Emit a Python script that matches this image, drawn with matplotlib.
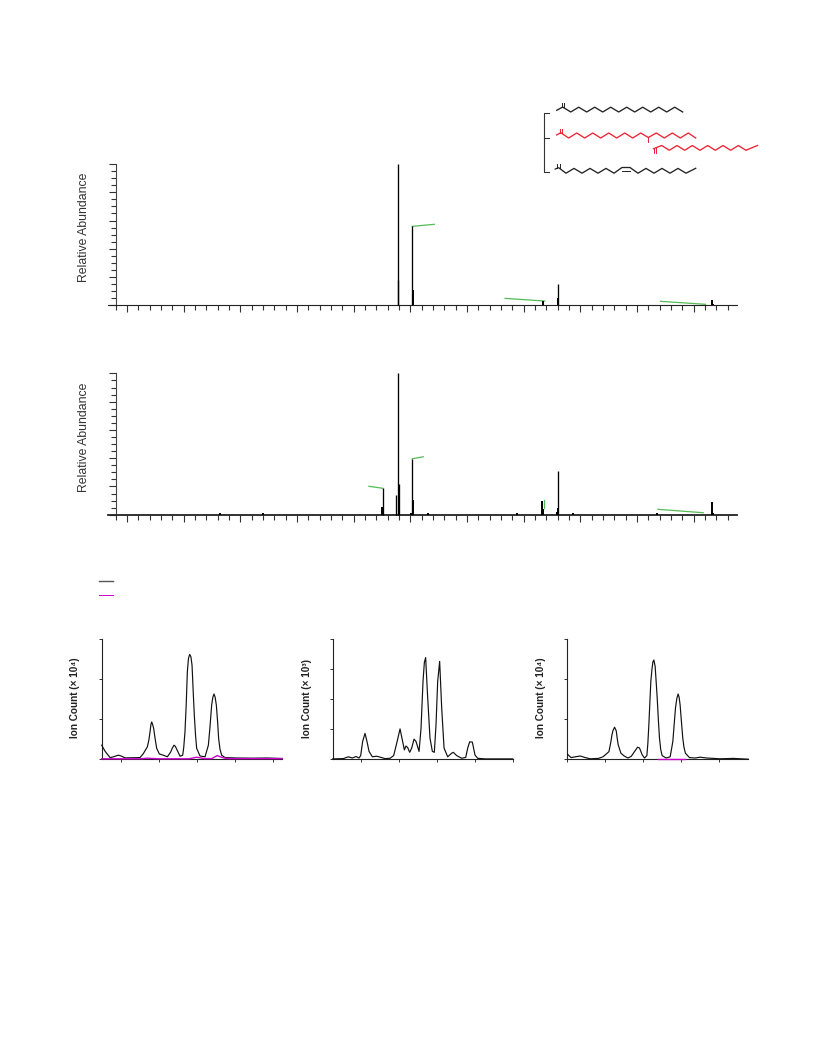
import numpy as np
import matplotlib
matplotlib.use("Agg")
import matplotlib.pyplot as plt
from matplotlib.ticker import MultipleLocator

plt.rcParams['font.family'] = ['Liberation Sans', 'DejaVu Sans']

W, H = 816, 1056

# spectrum 1: m/z, relative abundance
ms1_mz = [677.7, 678.8, 703.5, 705.2, 934.1, 960.0, 961.0, 1232.9, 1234.6]
ms1_int = [100, 18, 56, 11, 3, 15, 5, 3.8, 1.2]
# spectrum 2
ms2_mz = [364, 440, 731, 888, 987, 649.5, 651.2, 675.2, 677.7, 679.4, 680.5,
          701.7, 703.5, 705.2, 932.4, 934.1, 958.3, 960.0, 961.0,
          1136.0, 1231.8, 1232.9, 1234.0]
ms2_int = [1, 1, 1, 1, 1, 5.7, 18.6, 14, 100, 22, 2,
           1, 39.6, 10.4, 9.7, 4, 2, 31, 4.7,
           1.5, 1.7, 9, 1.5]

# green leader lines (m/z, abundance)
ms1_lead = [([703.5, 742.3], [55.9, 57.3]),
            ([867.3, 937.4], [4.9, 3.0]),
            ([1141.5, 1221], [2.8, 0.7])]
ms2_lead = [([627, 651.2], [20.1, 18.7]),
            ([703.5, 722.9], [39.6, 41]),
            ([936.0, 936.0], [5, 10.5]),
            ([1137, 1217], [3.8, 1.4])]

# chromatograms, y in axis tick units
a_t = [7.50, 7.94, 8.60, 9.04, 9.69, 10.13, 10.57, 12.54, 12.98, 13.51, 13.70, 13.86, 13.98, 14.08,
       14.20, 14.34, 14.50, 14.74, 15.09, 15.61, 16.14, 16.58, 16.80, 17.02, 17.20, 17.37, 17.81,
       18.16, 18.30, 18.46, 18.62, 18.77, 18.92, 19.08, 19.24, 19.39, 19.54, 19.69, 19.85, 20.0,
       20.44, 21.10, 21.54, 21.75, 21.97, 22.13, 22.28, 22.43, 22.59, 22.75, 22.89, 23.07, 23.29,
       23.73, 25.26, 27.46, 29.21, 31.27]
a_y = [.35, .2, .04, .06, .1, .075, .033, .04, .14, .31, .47, .68, .87, .93,
       .87, .77, .55, .27, .13, .1, .06, .18, .28, .35, .32, .25, .075,
       .1, .3, .68, 1.35, 2.18, 2.52, 2.62, 2.56, 2.35, 1.7, 1.1, .6, .27,
       .08, .06, .35, .8, 1.35, 1.55, 1.63, 1.55, 1.35, .95, .52, .25, .1,
       .04, .03, .025, .03, .017]
a_t2 = [7.5, 12.5, 13.5, 15.0, 19.0, 20.0, 21.0, 22.0, 22.7, 23.4, 24.0, 31.27]
a_y2 = [.01, .01, .025, .01, .01, .05, .015, .015, .09, .04, .015, .015]

b_t = [6.32, 7.72, 8.38, 8.90, 9.39, 9.78, 10, 10.26, 10.57, 10.83, 11.10, 11.54, 12.11,
       12.68, 13.20, 13.86, 14.34, 14.74, 15.18, 15.48, 15.75, 15.96, 16.18, 16.45, 16.71,
       17.02, 17.28, 17.68, 17.94, 18.20, 18.38, 18.55, 18.77, 19.12, 19.43, 19.69, 19.91,
       20.13, 20.39, 20.66, 20.97, 21.45, 21.97, 22.19, 22.63, 23.29, 23.82, 24.08, 24.34,
       24.69, 25.04, 25.39, 26.36, 30]
b_y = [.01, .02, .08, .04, .09, .04, .12, .59, .86, .59, .26, .08, .10,
       .06, .02, .03, .12, .53, 1.01, .64, .31, .44, .39, .23, .37,
       .67, .59, .26, 1.03, 2.59, 3.23, 3.39, 2.26, .70, .26, .23, 1.14,
       2.59, 3.26, 1.70, .37, .08, .20, .23, .12, .03, .06, .37, .58,
       .57, .14, .03, .01, .01]

c_t = [5.09, 5.53, 6.10, 6.75, 7.41, 8.07, 9.17, 9.74, 10.18, 10.53, 10.79, 10.92, 11.05, 11.27,
       11.49, 11.62, 11.75, 12.11, 12.54, 13.03, 13.46, 13.90, 14.30, 14.56, 14.91, 15.22, 15.53,
       15.66, 15.79, 15.92, 16.05, 16.20, 16.32, 16.45, 16.62, 16.75, 16.89, 17.04, 17.19, 17.35,
       17.54, 18.07, 18.60, 18.95, 19.12, 19.30, 19.48, 19.65, 19.78, 19.91, 20.08, 20.26, 20.42,
       20.61, 21.14, 21.89, 22.54, 23.42, 25.18, 26.93, 28.90]
c_y = [.12, .04, .06, .08, .04, .01, .02, .06, .13, .19, .44, .60, .71, .80,
       .71, .52, .36, .15, .08, .03, .07, .19, .30, .28, .11, .03, .09,
       .40, .86, 1.40, 1.94, 2.25, 2.43, 2.48, 2.32, 1.95, 1.53, 1.00, .53, .25,
       .09, .03, .06, .44, .85, 1.28, 1.52, 1.63, 1.55, 1.36, .95, .53, .30,
       .15, .04, .03, .05, .03, .01, .02, 0]
c_t2 = [17.0, 20.6]
c_y2 = [.008, .008]

# lipid drawings, page pixels
chain1_x = [556.7, 562.7, 570.7, 578.7, 586.7, 594.7, 602.7, 610.7, 618.7, 626.7, 634.7, 642.7, 650.7, 658.7, 666.7, 674.7, 682.7]
chain1_y = [110.3, 107.0, 112.0, 107.2, 112.0, 107.2, 112.0, 107.2, 112.0, 107.2, 112.0, 107.2, 112.0, 107.2, 112.0, 107.2, 112.0]
chain2_x = [556.7, 560.7, 568.7, 576.7, 584.7, 592.7, 600.7, 608.7, 616.7, 624.7, 632.7, 640.7, 648.3, 656.3, 664.3, 672.3, 680.3, 688.3, 695.7]
chain2_y = [135.0, 132.7, 138.0, 133.0, 138.0, 133.0, 138.0, 133.0, 138.0, 133.0, 138.0, 133.0, 137.5, 133.0, 138.0, 133.0, 138.0, 133.0, 138.0]
chain3_x = [653.5, 661.7, 669.3, 677.0, 684.7, 692.3, 700.0, 707.7, 715.3, 723.0, 730.7, 738.3, 746.0, 753.7, 757.5]
chain3_y = [148.7, 145.5, 150.3, 145.5, 150.3, 145.5, 150.3, 145.5, 150.3, 145.5, 150.3, 145.5, 150.3, 147.0, 145.5]
chain4_x = [555.3, 558.7, 566.0, 574.0, 582.0, 590.0, 598.0, 606.0, 614.0, 622.0, 630.0, 638.0, 646.0, 654.0, 662.0, 670.0, 678.0, 686.0, 695.7]
chain4_y = [169.0, 167.7, 173.2, 168.4, 173.2, 168.4, 173.2, 168.4, 173.2, 167.5, 167.5, 173.2, 168.4, 173.2, 168.4, 173.2, 168.4, 173.2, 168.3]


def px_axes(left, right, top, bottom):
    return fig.add_axes([left / W, 1 - bottom / H, (right - left) / W, (bottom - top) / H])


def spectrum(top, bottom, mz, ints, leads, base_lw):
    ax = px_axes(107.7, 736.7, top, bottom)
    ax.set_xlim(166, 1276)
    ax.set_ylim(0, 100)
    ax.patch.set_alpha(0)
    for s in ['top', 'right']:
        ax.spines[s].set_visible(False)
    ax.spines['left'].set_position(('data', 180))
    ax.spines['left'].set_linewidth(0.8)
    ax.spines['left'].set_color('#444444')
    ax.spines['bottom'].set_linewidth(base_lw)
    ax.spines['bottom'].set_color('#222222')
    ax.xaxis.set_major_locator(MultipleLocator(100))
    ax.xaxis.set_minor_locator(MultipleLocator(20))
    ax.yaxis.set_major_locator(MultipleLocator(20))
    ax.yaxis.set_minor_locator(MultipleLocator(5))
    ax.tick_params(which='major', length=5.2, width=0.8, color='#333333', labelbottom=False, labelleft=False)
    ax.tick_params(which='minor', length=3.4, width=0.8, color='#333333')
    # small isotope peaks come out as thick stubs in the original
    widths = [1.4 if i < 12 else 0.95 for i in ints]
    ax.vlines(mz, 0, ints, color='black', linewidth=widths, clip_on=False, zorder=3)
    for lx, ly in leads:
        ax.plot(lx, ly, color='#55bb55', linewidth=0.9, zorder=2)
    return ax


def chrom(left, right, xlim, ymax, t, y, t2, y2, label, lab_x):
    ax = px_axes(left, right, 639.2, 759.2)
    ax.set_xlim(*xlim)
    ax.set_ylim(0, ymax)
    ax.patch.set_alpha(0)
    for s in ['top', 'right']:
        ax.spines[s].set_visible(False)
    for s in ['left', 'bottom']:
        ax.spines[s].set_linewidth(0.8)
        ax.spines[s].set_color('#222222')
    ax.xaxis.set_major_locator(MultipleLocator(5))
    ax.yaxis.set_major_locator(MultipleLocator(1))
    ax.tick_params(length=2.4, width=0.7, color='#333333', labelbottom=False, labelleft=False)
    ax.plot(t, y, color='#111111', linewidth=0.85, zorder=3, clip_on=False)
    if t2 is not None:
        ax.plot(t2, y2, color='#cc00cc', linewidth=1.0, zorder=4, clip_on=False)
    fig.text(lab_x / W, 1 - 698 / H, label, rotation=90, ha='center', va='center',
             fontsize=7.2, fontweight='bold', color='#222222')
    return ax


fig = plt.figure(figsize=(W / 100, H / 100), dpi=100)

spectrum(164, 305.3, ms1_mz, ms1_int, ms1_lead, 0.8)
spectrum(373.4, 514.7, ms2_mz, ms2_int, ms2_lead, 1.3)

for yc in [227, 437]:
    fig.text(84 / W, 1 - yc / H, 'Relative Abundance', rotation=90, ha='center', va='center',
             fontsize=8.8, color='#333333')

chrom(101.7, 282.3, (7.5, 31.27), 3, a_t, a_y, a_t2, a_y2, 'Ion Count (× 10⁴)', 75.5)
chrom(332.7, 512.7, (6.32, 30), 4, b_t, b_y, None, None, 'Ion Count (× 10³)', 306.5)
chrom(567, 748.3, (5, 28.9), 3, c_t, c_y, c_t2, c_y2, 'Ion Count (× 10⁴)', 541)

# overlay in page pixels: structures, bracket, legend keys
ov = fig.add_axes([0, 0, 1, 1])
ov.set_xlim(0, W)
ov.set_ylim(H, 0)
ov.axis('off')
ov.patch.set_alpha(0)

blk = '#222222'
red = '#ee2233'
ov.plot(chain1_x, chain1_y, color=blk, lw=0.95)
ov.plot([561.6, 561.6], [107, 102.5], color=blk, lw=0.7)
ov.plot([563.8, 563.8], [107, 102.5], color=blk, lw=0.7)
ov.plot(chain2_x, chain2_y, color=red, lw=0.95)
ov.plot([559.6, 559.6], [132.5, 128.5], color=red, lw=0.7)
ov.plot([561.8, 561.8], [132.5, 128.5], color=red, lw=0.7)
ov.plot([648.3, 648.3], [137.3, 141.5], color=red, lw=0.7)
ov.plot(chain3_x, chain3_y, color=red, lw=0.95)
ov.plot([653.8, 653.8], [148, 153], color=red, lw=0.7)
ov.plot([656, 656], [148, 153], color=red, lw=0.7)
ov.plot(chain4_x, chain4_y, color=blk, lw=0.95)
ov.plot([622, 630], [171.2, 171.2], color=blk, lw=0.7)
ov.plot([557.4, 557.4], [168, 164], color=blk, lw=0.7)
ov.plot([559.6, 559.6], [168, 164], color=blk, lw=0.7)

ov.plot([548.7, 544.3, 544.3, 548.7], [113.3, 113.3, 171.7, 171.7], color='#333333', lw=0.8)
ov.plot([544.3, 548.7], [137.7, 137.7], color='#333333', lw=0.8)

ov.plot([99.3, 113.3], [580.7, 580.7], color='#555555', lw=1.0)
ov.plot([99.3, 113.3], [595.3, 595.3], color='#cc00cc', lw=0.7)

fig.savefig('out.png', dpi=100)
